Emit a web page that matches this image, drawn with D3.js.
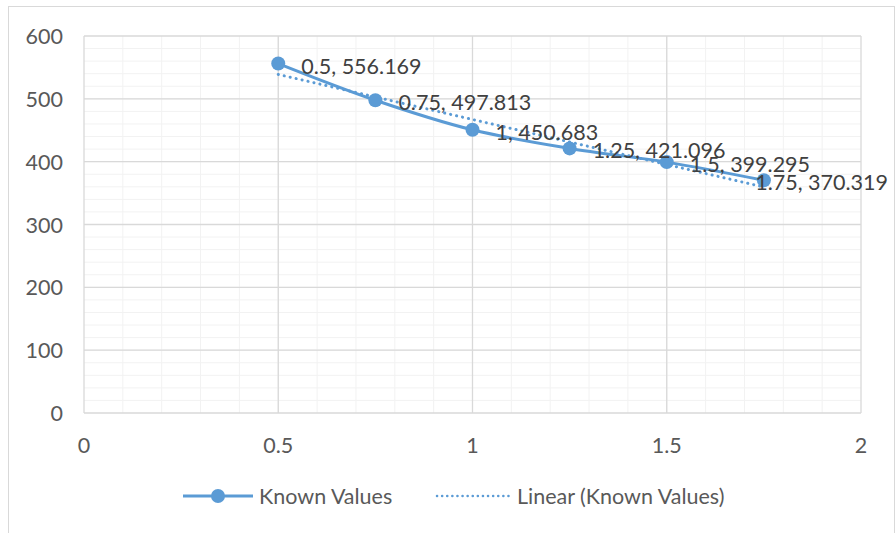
<!DOCTYPE html>
<html>
<head>
<meta charset="utf-8">
<script src="https://cdn.jsdelivr.net/npm/d3@7"></script>
<style>
  html, body { margin: 0; padding: 0; background: #fff; }
  svg { display: block; font-family: Lato, "Open Sans", sans-serif; }
</style>
</head>
<body>
<svg id="chart" width="896" height="533"></svg>
<script>
// Measured points of the series
const xValues = [0.5, 0.75, 1, 1.25, 1.5, 1.75];
const yValues = [556.169, 497.813, 450.683, 421.096, 399.295, 370.319];
const xTicks = [0, 0.5, 1, 1.5, 2];
const yTicks = [0, 100, 200, 300, 400, 500, 600];
const seriesName = "Known Values";
const trendName = "Linear (Known Values)";

const color = "#5B9BD5";
const fontSize = 21.5;
const svg = d3.select("#chart");
const plot = { left: 84, right: 861, top: 36, bottom: 413 };

const x = d3.scaleLinear().domain([0, 2]).range([plot.left, plot.right]);
const y = d3.scaleLinear().domain([0, 600]).range([plot.bottom, plot.top]);

// chart frame
svg.append("rect")
  .attr("x", 8.5).attr("y", 6.5).attr("width", 886).attr("height", 540)
  .attr("fill", "#fff").attr("stroke", "#d9d9d9").attr("stroke-width", 1);

// minor gridlines
const g = svg.append("g");
g.selectAll(".vminor").data(d3.range(1, 20).map(i => i / 10))
  .join("line")
  .attr("x1", d => x(d)).attr("x2", d => x(d))
  .attr("y1", plot.top).attr("y2", plot.bottom)
  .attr("stroke", "#f2f2f2").attr("stroke-width", 1);
g.selectAll(".hminor").data(d3.range(20, 600, 20))
  .join("line")
  .attr("x1", plot.left).attr("x2", plot.right)
  .attr("y1", d => y(d)).attr("y2", d => y(d))
  .attr("stroke", "#f2f2f2").attr("stroke-width", 1);

// major gridlines
g.selectAll(".vmajor").data(xTicks)
  .join("line")
  .attr("x1", d => x(d)).attr("x2", d => x(d))
  .attr("y1", plot.top).attr("y2", plot.bottom)
  .attr("stroke", "#d9d9d9").attr("stroke-width", 1.3);
g.selectAll(".hmajor").data(yTicks)
  .join("line")
  .attr("x1", plot.left).attr("x2", plot.right)
  .attr("y1", d => y(d)).attr("y2", d => y(d))
  .attr("stroke", "#d9d9d9").attr("stroke-width", 1.3);

// axis tick labels
svg.append("g").selectAll("text").data(yTicks)
  .join("text")
  .attr("x", 63).attr("y", d => y(d))
  .attr("text-anchor", "end").attr("dominant-baseline", "central")
  .attr("font-size", fontSize).attr("fill", "#595959")
  .text(d => d);
svg.append("g").selectAll("text").data(xTicks)
  .join("text")
  .attr("x", d => x(d)).attr("y", 445)
  .attr("text-anchor", "middle").attr("dominant-baseline", "central")
  .attr("font-size", fontSize).attr("fill", "#595959")
  .text(d => d);

const pts = xValues.map((v, i) => ({ x: v, y: yValues[i] }));

// least-squares trendline over the series
const mx = d3.mean(xValues), my = d3.mean(yValues);
const slope = d3.sum(pts, p => (p.x - mx) * (p.y - my)) / d3.sum(pts, p => (p.x - mx) ** 2);
const icpt = my - slope * mx;
const trend = [xValues[0], xValues[xValues.length - 1]].map(v => ({ x: v, y: icpt + slope * v }));

svg.append("path").datum(pts)
  .attr("d", d3.line().x(d => x(d.x)).y(d => y(d.y)).curve(d3.curveMonotoneX))
  .attr("fill", "none").attr("stroke", color).attr("stroke-width", 3)
  .attr("stroke-linejoin", "round");

svg.append("path").datum(trend)
  .attr("d", d3.line().x(d => x(d.x)).y(d => y(d.y)))
  .attr("fill", "none").attr("stroke", color).attr("stroke-width", 3)
  .attr("stroke-dasharray", "0.1 6").attr("stroke-linecap", "round");

svg.append("g").selectAll("circle").data(pts)
  .join("circle")
  .attr("cx", d => x(d.x)).attr("cy", d => y(d.y)).attr("r", 7)
  .attr("fill", color);

// data labels, kept inside the chart frame on the right
const labelRight = 888;
svg.append("g").selectAll("text").data(pts)
  .join("text")
  .attr("y", d => y(d.y) + 2)
  .attr("dominant-baseline", "central")
  .attr("font-size", fontSize).attr("fill", "#404040")
  .text(d => `${d.x}, ${d.y}`)
  .attr("x", function (d) {
    const w = this.getComputedTextLength();
    return Math.min(x(d.x) + 23, labelRight - w);
  });

// legend
const lg = svg.append("g");
lg.append("line").attr("x1", 183).attr("x2", 253).attr("y1", 496).attr("y2", 496)
  .attr("stroke", color).attr("stroke-width", 3);
lg.append("circle").attr("cx", 218).attr("cy", 496).attr("r", 7).attr("fill", color);
lg.append("text").attr("x", 259).attr("y", 496).attr("dominant-baseline", "central")
  .attr("font-size", fontSize).attr("fill", "#595959").text(seriesName);
lg.append("line").attr("x1", 437).attr("x2", 512).attr("y1", 496).attr("y2", 496)
  .attr("stroke", color).attr("stroke-width", 2.5)
  .attr("stroke-dasharray", "0.1 5").attr("stroke-linecap", "round");
lg.append("text").attr("x", 517).attr("y", 496).attr("dominant-baseline", "central")
  .attr("font-size", fontSize).attr("fill", "#595959").text(trendName);
</script>
</body>
</html>
